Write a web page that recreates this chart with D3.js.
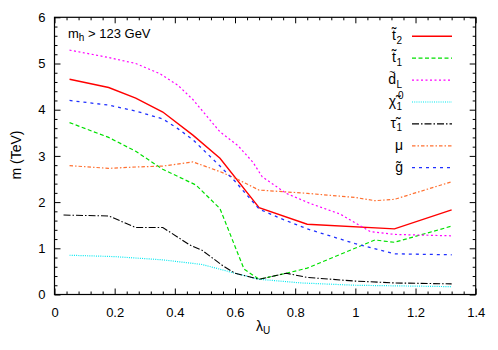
<!DOCTYPE html>
<html><head><meta charset="utf-8">
<script src="https://cdn.jsdelivr.net/npm/d3@7"></script>
<style>
body{margin:0;background:#fff;}
text{font-family:"Liberation Sans",Arial,Helvetica,sans-serif;fill:#000;}
</style></head>
<body>
<svg id="c" width="498" height="350"></svg>
<script>
// ---- data ----
const t2X  = [0.05,0.18,0.27,0.36,0.46,0.55,0.68,0.84,1.13,1.32];
const t2Y  = [4.66,4.48,4.25,3.95,3.45,2.95,1.88,1.52,1.42,1.83];
const t1X  = [0.05,0.18,0.27,0.36,0.47,0.55,0.63,0.68,0.77,0.84,1.065,1.13,1.32];
const t1Y  = [3.72,3.40,3.10,2.71,2.37,1.86,0.55,0.33,0.46,0.57,1.18,1.13,1.48];
const dLX  = [0.05,0.18,0.27,0.35,0.41,0.46,0.55,0.61,0.66,0.69,0.77,0.85,0.95,1.05,1.13,1.32];
const dLY  = [5.29,5.13,5.00,4.78,4.53,4.22,3.52,3.22,2.86,2.55,2.19,1.97,1.74,1.36,1.30,1.27];
const chiX = [0.05,0.20,0.36,0.49,0.56,0.60,0.68,0.82,1.00,1.32];
const chiY = [0.85,0.82,0.75,0.65,0.53,0.46,0.33,0.25,0.20,0.17];
const tauX = [0.03,0.18,0.27,0.36,0.45,0.49,0.56,0.60,0.68,0.77,0.84,1.00,1.13,1.32];
const tauY = [1.72,1.70,1.45,1.45,1.07,0.96,0.62,0.46,0.33,0.46,0.37,0.29,0.25,0.23];
const muX  = [0.05,0.18,0.27,0.36,0.46,0.55,0.60,0.68,0.84,1.00,1.065,1.13,1.32];
const muY  = [2.79,2.73,2.76,2.78,2.87,2.66,2.52,2.26,2.19,2.10,2.03,2.06,2.44];
const glX  = [0.05,0.18,0.27,0.36,0.41,0.46,0.55,0.60,0.68,0.75,0.84,1.00,1.13,1.32];
const glY  = [4.20,4.10,3.97,3.80,3.59,3.35,2.78,2.45,1.85,1.65,1.42,1.10,0.88,0.86];
const xMajor = [0,0.2,0.4,0.6,0.8,1,1.2,1.4];
const yMajor = [0,1,2,3,4,5,6];
const xLabel = "λ";
const xLabelSub = "U";
const yLabel = "m (TeV)";

const series = [
  {xs:t2X, ys:t2Y, color:"#ff0000", dash:null, w:1.4, main:"t\u0303", sub:"2"},
  {xs:t1X, ys:t1Y, color:"#00e000", dash:"4,2.5", w:1.2, main:"t\u0303", sub:"1"},
  {xs:dLX, ys:dLY, color:"#ff00ff", dash:"2,2.5", w:1.2, main:"d", manualTilde:true, sub:"L"},
  {xs:chiX, ys:chiY, color:"#00e8f0", dash:"1,1.2", w:1.2, main:"\u03c7\u0303", sub:"1", sup:"0"},
  {xs:tauX, ys:tauY, color:"#000000", dash:"7,2,1.5,2", w:1.1, main:"\u03c4\u0303", sub:"1"},
  {xs:muX, ys:muY, color:"#ff7030", dash:"3.5,2,1.5,2", w:1.2, main:"\u03bc"},
  {xs:glX, ys:glY, color:"#2030ff", dash:"3,4", w:1.3, main:"g\u0303"}
];

// ---- layout ----
const svg = d3.select("#c");
const L=54.5, R=475.7, T=17.3, B=294.5;
const x = d3.scaleLinear().domain([0,1.4]).range([L,R]);
const y = d3.scaleLinear().domain([0,6]).range([B,T]);
const xMinor = d3.range(0,1.4001,0.04).map(v=>+v.toFixed(2)).filter(v=>!xMajor.some(m=>Math.abs(m-v)<1e-6));
const yMinor = d3.range(0,6.0001,0.2).map(v=>+v.toFixed(2)).filter(v=>!yMajor.some(m=>Math.abs(m-v)<1e-6));

function styleAxis(g){ g.select(".domain").remove(); g.selectAll("line").attr("stroke","#000").attr("stroke-width",1); g.selectAll("text").attr("font-size",13).attr("font-family","Liberation Sans, Arial, sans-serif"); }

svg.append("g").attr("transform",`translate(0,${B})`).call(d3.axisBottom(x).tickValues(xMajor).tickSize(-6).tickPadding(13).tickFormat(d3.format("~g"))).call(styleAxis);
svg.append("g").attr("transform",`translate(0,${B})`).call(d3.axisBottom(x).tickValues(xMinor).tickSize(-3).tickFormat("")).call(styleAxis);
svg.append("g").attr("transform",`translate(0,${T})`).call(d3.axisTop(x).tickValues(xMajor).tickSize(-6).tickFormat("")).call(styleAxis);
svg.append("g").attr("transform",`translate(0,${T})`).call(d3.axisTop(x).tickValues(xMinor).tickSize(-3).tickFormat("")).call(styleAxis);
svg.append("g").attr("transform",`translate(${L},0)`).call(d3.axisLeft(y).tickValues(yMajor).tickSize(-6).tickPadding(9).tickFormat(d3.format("d"))).call(styleAxis);
svg.append("g").attr("transform",`translate(${L},0)`).call(d3.axisLeft(y).tickValues(yMinor).tickSize(-3).tickFormat("")).call(styleAxis);
svg.append("g").attr("transform",`translate(${R},0)`).call(d3.axisRight(y).tickValues(yMajor).tickSize(-6).tickFormat("")).call(styleAxis);
svg.append("g").attr("transform",`translate(${R},0)`).call(d3.axisRight(y).tickValues(yMinor).tickSize(-3).tickFormat("")).call(styleAxis);

svg.append("rect").attr("x",L).attr("y",T).attr("width",R-L).attr("height",B-T).attr("fill","none").attr("stroke","#000").attr("stroke-width",1.2);

const line = d3.line().x(d=>x(d[0])).y(d=>y(d[1]));
series.forEach(s=>{
  svg.append("path").datum(s.xs.map((v,i)=>[v,s.ys[i]]))
    .attr("d",line).attr("fill","none").attr("stroke",s.color)
    .attr("stroke-width",s.w).attr("stroke-dasharray",s.dash);
});

// legend
const legTop = 36.3, legStep = 21.9;
series.forEach((s,i)=>{
  const yy = legTop + i*legStep;
  svg.append("line").attr("x1",412).attr("x2",452).attr("y1",yy).attr("y2",yy)
    .attr("stroke",s.color).attr("stroke-width",s.w).attr("stroke-dasharray",s.dash);
  const subW = (s.sub||s.sup) ? 7 : 0;
  const xEnd = 403 - subW;
  if(s.manualTilde){
    const t = svg.append("text").attr("x",xEnd-7.8).attr("y",yy+4).attr("font-size",14);
    t.append("tspan").text(s.main);
    t.append("tspan").attr("font-size",10).attr("dx",-6.8).attr("dy",-8).text("~");
  } else {
    svg.append("text").attr("x",xEnd).attr("y",yy+4).attr("text-anchor","end")
      .attr("font-size",14).text(s.main);
  }
  if(s.sub){
    svg.append("text").attr("x",xEnd+0.5).attr("y",yy+7.5).attr("font-size",10).text(s.sub);
  }
  if(s.sup){
    svg.append("text").attr("x",xEnd+2).attr("y",yy-3).attr("font-size",10).text(s.sup);
  }
});

// annotation
const ann = svg.append("text").attr("x",68).attr("y",38).attr("font-size",13);
ann.append("tspan").text("m");
ann.append("tspan").attr("font-size",10).attr("dy",3).text("h");
ann.append("tspan").attr("dy",-3).text(" > 123 GeV");

// axis labels
const xl = svg.append("text").attr("x",256).attr("y",331).attr("font-size",14);
xl.append("tspan").text(xLabel);
xl.append("tspan").attr("font-size",10).attr("dy",3).text(xLabelSub);
svg.append("text").attr("transform",`translate(21,155) rotate(-90)`).attr("text-anchor","middle").attr("font-size",14).text(yLabel);
</script>
</body></html>
